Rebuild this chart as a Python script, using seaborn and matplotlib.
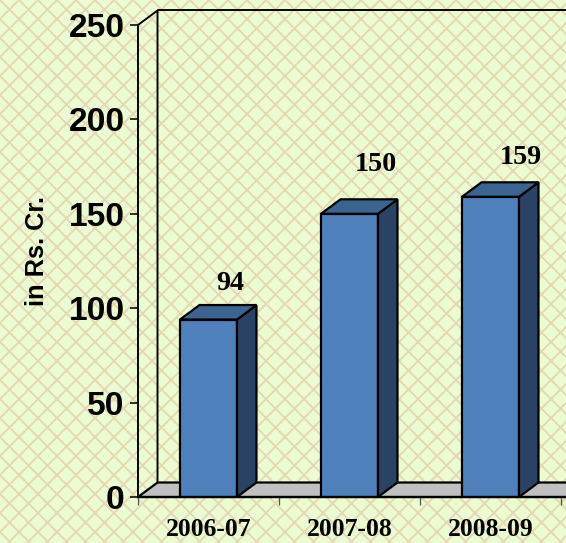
import matplotlib
matplotlib.use('Agg')
import matplotlib.pyplot as plt
from matplotlib.patches import Polygon
from matplotlib.ticker import FixedLocator
import seaborn as sns

years = ['2006-07', '2007-08', '2008-09']
values = [94, 150, 159]
y_ticks = [0, 50, 100, 150, 200, 250]

# label shift from the bar centre, in pixels
label_dx = [22, 26, 30]
label_dy = [36, 49, 39]

W, H = 566, 543
DPI = 114

sns.set_theme(style='white')
plt.rcParams['hatch.linewidth'] = 1.2
plt.rcParams['hatch.color'] = '#E5D8B0'

fig = plt.figure(figsize=(W / DPI, H / DPI), dpi=DPI)
fig.patch.set_facecolor('#EBFCD2')
fig.patch.set_edgecolor('#E5D8B0')
fig.patch.set_hatch('xx')
fig.patch.set_linewidth(0)

ax = fig.add_axes([138 / W, (H - 497) / H, (W - 138) / W, 472 / H])
ax.patch.set_visible(False)

sns.barplot(x=years, y=values, ax=ax, width=0.404, color='#4F81BD', saturation=1,
            edgecolor='black', linewidth=1.4, zorder=3)

ax.set_xlim(-0.5, (W - 208.5) / 141)
ax.set_ylim(0, 250)

# 3d depth in data units
dx = 19.5 / 141
dy = 14.5 * 250 / 472
x0, x1 = ax.get_xlim()

# floor and back wall
ax.add_patch(Polygon([(x0, 0), (x0 + dx, dy), (x1 + 1, dy), (x1 + 1, 0)], closed=True,
                     facecolor='#C0C0C0', edgecolor='black', lw=1.4, zorder=1, clip_on=False))
wall_top = 250 + dy
ax.plot([x0, x0 + dx, x0 + dx], [250, wall_top, dy], color='black', lw=1.2, zorder=2, clip_on=False)
ax.plot([x0 + dx, x1 + 1], [wall_top, wall_top], color='black', lw=1.2, zorder=2, clip_on=False)

# side and top faces of each bar
for bar, val in zip(ax.patches, values):
    left = bar.get_x()
    right = left + bar.get_width()
    ax.add_patch(Polygon([(right, 0), (right + dx, dy), (right + dx, val + dy), (right, val)], closed=True,
                         facecolor='#2A4365', edgecolor='black', lw=1.4, zorder=3))
    ax.add_patch(Polygon([(left, val), (left + dx, val + dy), (right + dx, val + dy), (right, val)], closed=True,
                         facecolor='#3C6491', edgecolor='black', lw=1.4, zorder=3))

for i, val in enumerate(values):
    ax.annotate(str(val), (i, val), xytext=(label_dx[i] * 72 / DPI, label_dy[i] * 72 / DPI),
                textcoords='offset points', ha='center', va='center', fontsize=17.8,
                fontweight='bold', family='Liberation Serif', color='black', zorder=5)

for side in ['top', 'right', 'bottom']:
    ax.spines[side].set_visible(False)
ax.spines['left'].set_color('black')
ax.spines['left'].set_linewidth(1.2)
ax.axhline(0, color='black', lw=1.4, zorder=4, clip_on=False)

ax.set_yticks(y_ticks)
ax.tick_params(axis='y', left=True, length=5, width=1, color='black', pad=3.5)
for t in ax.get_yticklabels():
    t.set_fontsize(21.2)
    t.set_fontweight('bold')
    t.set_family('Liberation Sans')
    t.set_color('black')

ax.xaxis.set_minor_locator(FixedLocator([-0.5, 0.5, 1.5, 2.5]))
ax.tick_params(axis='x', which='minor', bottom=True, length=5, width=0.8, color='#555555')
ax.tick_params(axis='x', which='major', bottom=False, length=0, pad=13)
for t in ax.get_xticklabels():
    t.set_fontsize(16.2)
    t.set_fontweight('bold')
    t.set_family('Liberation Serif')
    t.set_color('black')

ax.set_xlabel('')
ax.set_ylabel('in Rs. Cr.', fontsize=16, fontweight='bold', family='Liberation Sans', color='black',
              y=0.521, labelpad=12.5)

fig.savefig('out.png', dpi=DPI)
